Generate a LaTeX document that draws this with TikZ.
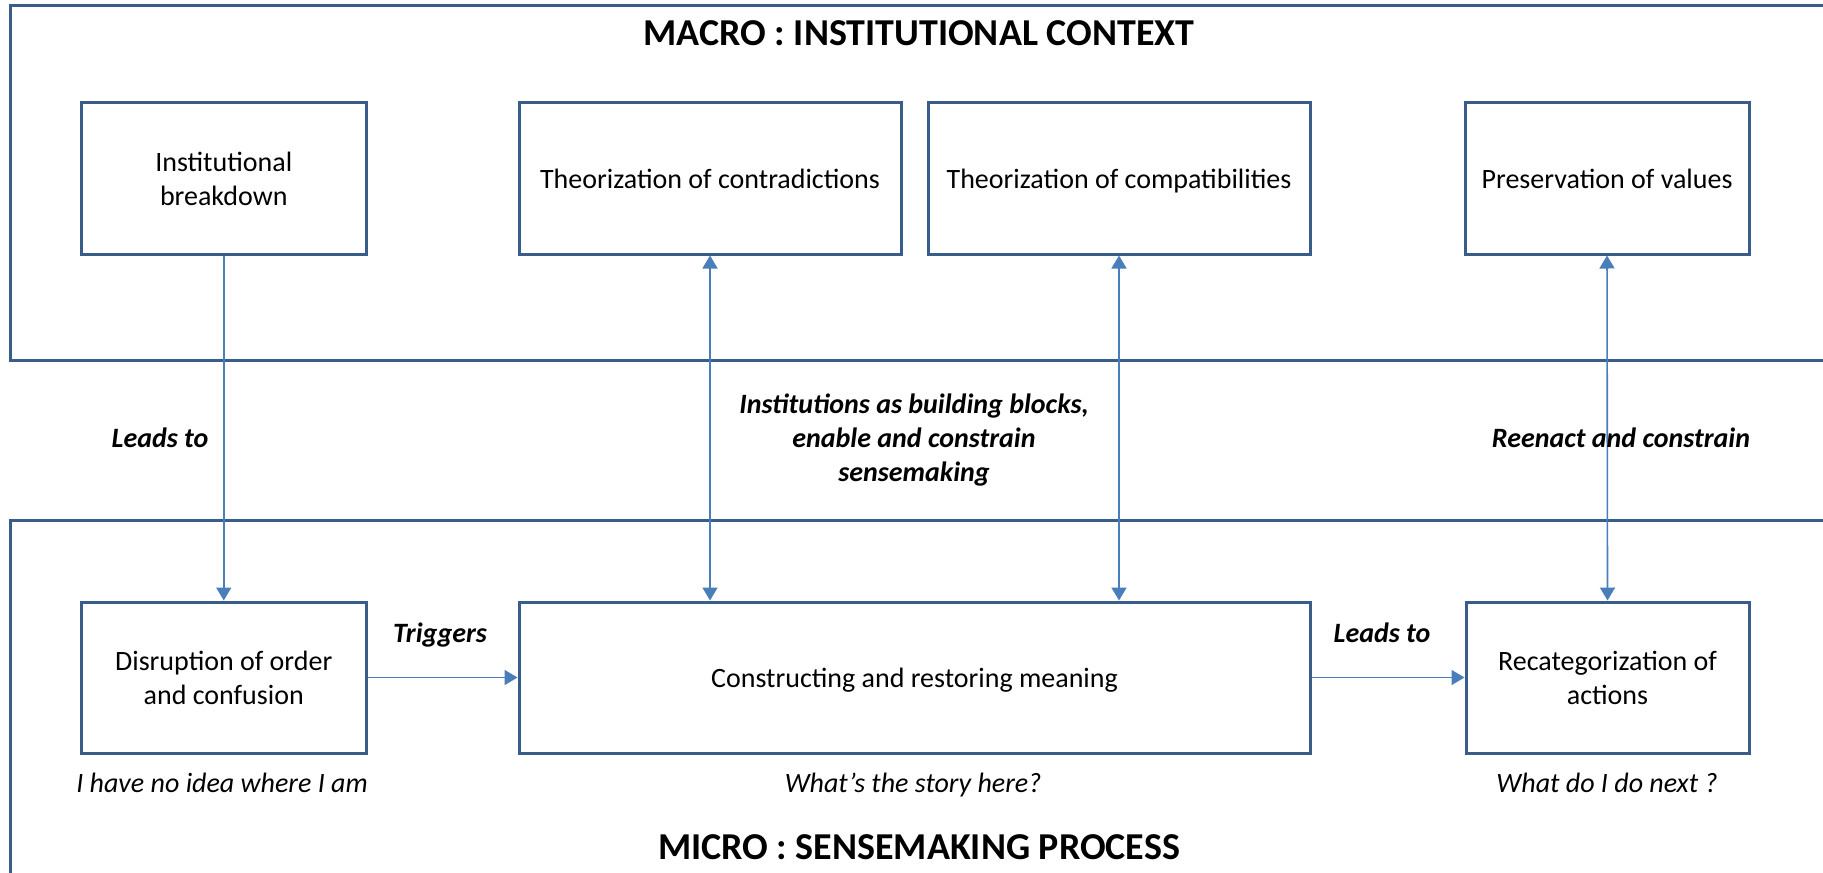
\documentclass[tikz,border=0pt]{standalone}
\usepackage{fontspec}
\setmainfont{Carlito}
\usetikzlibrary{arrows.meta}
\definecolor{boxblue}{HTML}{385D8A}
\definecolor{arrblue}{HTML}{4A7EBB}
\begin{document}
\begin{tikzpicture}[x=0.5pt,y=-0.5pt,
  box/.style={draw=boxblue,line width=1.5pt,minimum height=75.5pt,align=center,inner sep=2pt,font=\fontsize{14}{17}\selectfont},
  oneline/.style={text depth=0pt},
  frame/.style={draw=boxblue,line width=1.5pt},
  arr/.style={draw=arrblue,line width=0.8pt,-{Triangle[length=6.5pt,width=7.5pt]}},
  darr/.style={draw=arrblue,line width=0.8pt,{Triangle[length=6.5pt,width=7.5pt]}-{Triangle[length=6.5pt,width=7.5pt]}},
  lbl/.style={font=\fontsize{14}{17}\selectfont\bfseries\itshape,align=center},
  quote/.style={font=\fontsize{14}{17}\selectfont\itshape},
  title/.style={font=\fontsize{19}{23}\selectfont\bfseries}]
\clip (0,0) rectangle (1823,872);
\fill[white] (0,0) rectangle (1823,872);
\draw[frame] (10.5,6) rectangle (1840,360);
\draw[frame] (10.5,520) rectangle (1840,890);

\node[title,anchor=base] (macro) at (919,46) {MACRO : INSTITUTIONAL CONTEXT};
\node[title,anchor=base] (micro) at (919,859) {MICRO : SENSEMAKING PROCESS};

\node[box,minimum width=142.25pt] (A) at (223.75,178.5) {Institutional\\breakdown};
\node[box,oneline,minimum width=191pt] (B) at (710,178.5) {Theorization of contradictions};
\node[box,oneline,minimum width=191pt] (C) at (1119,178.5) {Theorization of compatibilities};
\node[box,oneline,minimum width=142pt] (D) at (1607,178.5) {Preservation of values};

\node[box,minimum width=142.25pt] (E) at (223.75,677.5) {Disruption of order\\and confusion};
\node[box,oneline,minimum width=395.5pt] (F) at (914.5,677.5) {Constructing and restoring meaning};
\node[box,minimum width=141.5pt] (G) at (1607.5,677.5) {Recategorization of\\actions};

\draw[arr] (A.south) -- (E.north);
\draw[darr] (B.south) -- (B.south |- F.north);
\draw[darr] (C.south) -- (C.south |- F.north);
\draw[darr] (D.south) -- (G.north);
\draw[arr] (E.east) -- (F.west);
\draw[arr] (F.east) -- (G.west);

\node[lbl,anchor=base] (l1) at (160,447) {Leads to};
\node[lbl] (l2) at (914,440) {Institutions as building blocks,\\enable and constrain\\sensemaking};
\node[lbl,anchor=base] (l3) at (1621,447) {Reenact and constrain};
\node[lbl,anchor=base] (l4) at (440,642) {Triggers};
\node[lbl,anchor=base] (l5) at (1382,642) {Leads to};

\node[quote,anchor=base] (q1) at (222,792) {I have no idea where I am};
\node[quote,anchor=base] (q2) at (913,792) {What’s the story here?};
\node[quote,anchor=base] (q3) at (1607,792) {What do I do next ?};
\end{tikzpicture}
\end{document}
